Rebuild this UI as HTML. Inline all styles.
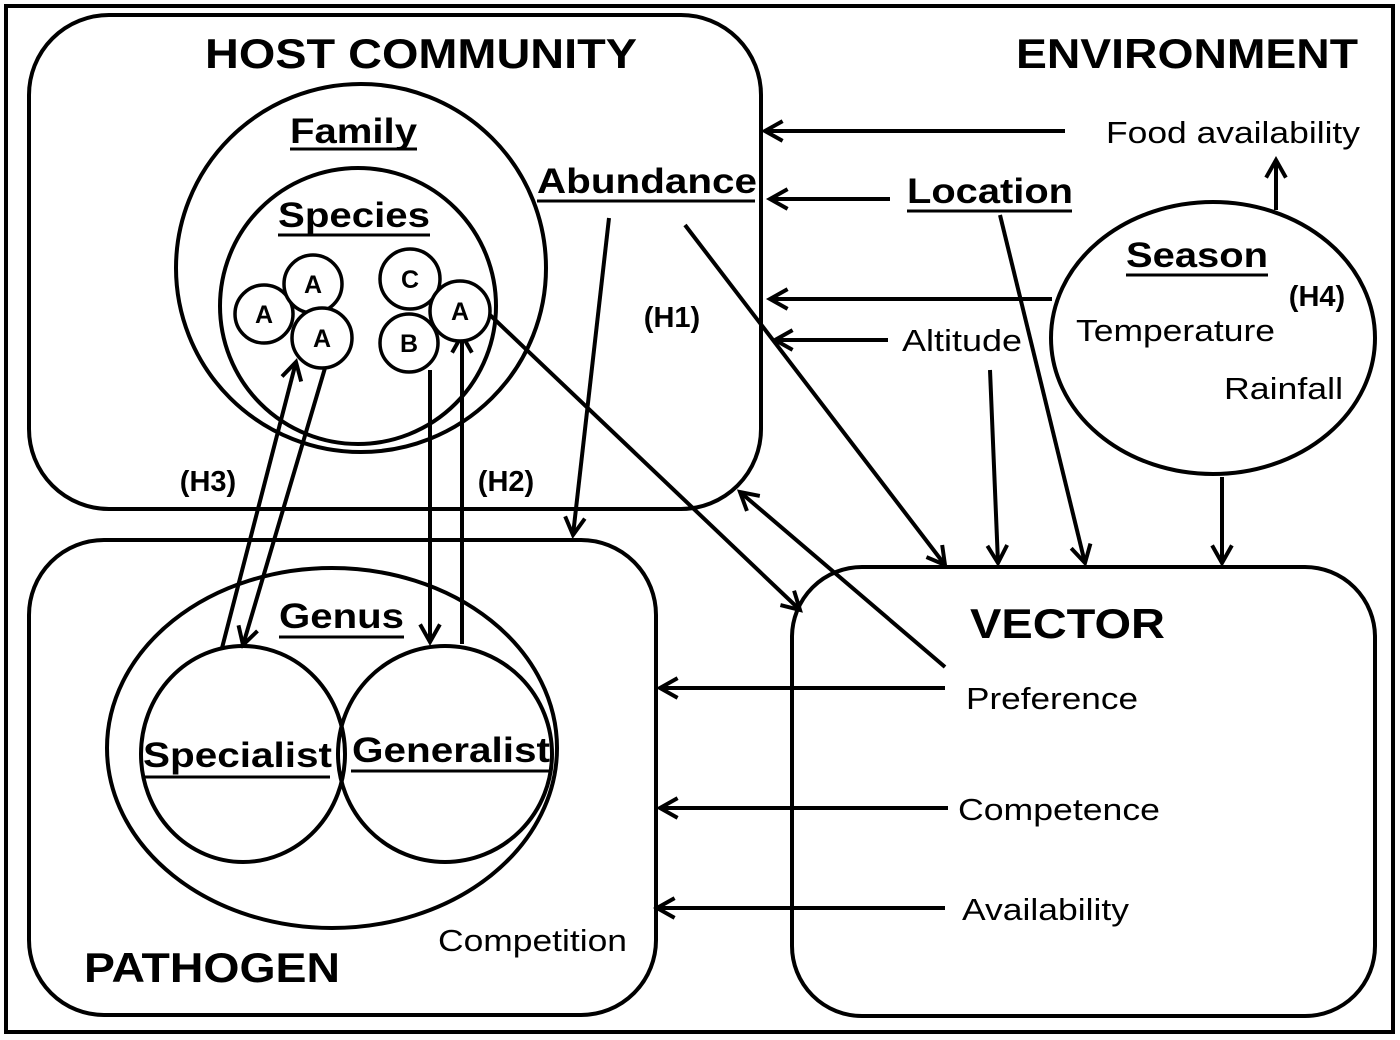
<!DOCTYPE html>
<html><head><meta charset="utf-8"><style>
html,body{margin:0;padding:0;background:#fff;}
svg{display:block;}
text{font-family:"Liberation Sans",Arial,sans-serif;fill:#000;}
.b{font-weight:bold;}
</style></head><body>
<svg width="1400" height="1040" viewBox="0 0 1400 1040" xmlns="http://www.w3.org/2000/svg">
<defs>
<marker id="a" viewBox="0 0 20 20" refX="18" refY="10" markerWidth="22" markerHeight="22" markerUnits="userSpaceOnUse" orient="auto" overflow="visible">
<path d="M2,1 L18,10 L2,19" fill="none" stroke="#000" stroke-width="3.6"/>
</marker>
</defs>
<g fill="none" stroke="#000" stroke-width="4">
<rect x="6" y="6" width="1387" height="1026"/>
<rect x="29" y="15" width="732" height="494" rx="80"/>
<rect x="29" y="540" width="627" height="475" rx="75"/>
<rect x="792" y="567" width="583" height="449" rx="70"/>
<ellipse cx="361" cy="268" rx="185" ry="184"/>
<ellipse cx="358" cy="306" rx="138" ry="138"/>
<ellipse cx="1213" cy="338" rx="162" ry="136"/>
<ellipse cx="332" cy="748" rx="225" ry="180"/>
<ellipse cx="243" cy="754" rx="102" ry="108"/>
<ellipse cx="445" cy="754" rx="107" ry="108"/>
</g>
<g stroke="#000" stroke-width="4" fill="none" marker-end="url(#a)">
<line x1="1065" y1="131" x2="765" y2="131"/>
<line x1="890" y1="199" x2="770" y2="199"/>
<line x1="1052" y1="299" x2="770" y2="299"/>
<line x1="888" y1="340" x2="775" y2="340"/>
<line x1="1276" y1="210" x2="1276" y2="160"/>
<line x1="609" y1="218" x2="573" y2="535"/>
<line x1="685" y1="225" x2="945" y2="565"/>
<line x1="1000" y1="215" x2="1085" y2="563"/>
<line x1="990" y1="370" x2="998" y2="563"/>
<line x1="1222" y1="477" x2="1222" y2="563"/>
<line x1="945" y1="667" x2="740" y2="492"/>
<line x1="490" y1="315" x2="800" y2="610"/>
<line x1="945" y1="688" x2="660" y2="688"/>
<line x1="948" y1="808" x2="660" y2="808"/>
<line x1="945" y1="908" x2="657" y2="908"/>
<line x1="222" y1="648" x2="296" y2="362"/>
<line x1="325" y1="368" x2="243" y2="645"/>
<line x1="430" y1="370" x2="430" y2="642"/>
<line x1="462" y1="644" x2="462" y2="335"/>
</g>
<g fill="#fff" stroke="#000" stroke-width="3.5">
<circle cx="264" cy="314" r="29"/>
<circle cx="313" cy="284" r="29"/>
<circle cx="322" cy="338" r="30"/>
<circle cx="410" cy="279" r="30"/>
<circle cx="409" cy="343" r="29"/>
<circle cx="460" cy="311" r="30"/>
</g>
<g font-size="25" text-anchor="middle">
<text x="264" y="323" class="b">A</text>
<text x="313" y="293" class="b">A</text>
<text x="322" y="347" class="b">A</text>
<text x="410" y="288" class="b">C</text>
<text x="409" y="352" class="b">B</text>
<text x="460" y="320" class="b">A</text>
</g>
<g class="b" font-size="42">
<text x="205" y="68" class="b" textLength="432" lengthAdjust="spacingAndGlyphs">HOST COMMUNITY</text>
<text x="1016" y="68" class="b" textLength="342" lengthAdjust="spacingAndGlyphs">ENVIRONMENT</text>
<text x="970" y="638" class="b" textLength="195" lengthAdjust="spacingAndGlyphs">VECTOR</text>
<text x="84" y="982" class="b" textLength="256" lengthAdjust="spacingAndGlyphs">PATHOGEN</text>
</g>
<g font-size="35">
<text x="290" y="143" class="b" textLength="127" lengthAdjust="spacingAndGlyphs">Family</text>
<text x="278" y="227" class="b" textLength="152" lengthAdjust="spacingAndGlyphs">Species</text>
<text x="537" y="193" class="b" textLength="220" lengthAdjust="spacingAndGlyphs">Abundance</text>
<text x="907" y="203" class="b" textLength="166" lengthAdjust="spacingAndGlyphs">Location</text>
<text x="1126" y="267" class="b" textLength="142" lengthAdjust="spacingAndGlyphs">Season</text>
<text x="279" y="628" class="b" textLength="125" lengthAdjust="spacingAndGlyphs">Genus</text>
<text x="143" y="767" class="b" textLength="189" lengthAdjust="spacingAndGlyphs">Specialist</text>
<text x="352" y="762" class="b" textLength="198" lengthAdjust="spacingAndGlyphs">Generalist</text>
</g>
<g stroke="#000" stroke-width="3">
<line x1="290" y1="149" x2="417" y2="149"/>
<line x1="278" y1="235" x2="430" y2="235"/>
<line x1="537" y1="201" x2="755" y2="201"/>
<line x1="907" y1="211" x2="1072" y2="211"/>
<line x1="1126" y1="275" x2="1268" y2="275"/>
<line x1="279" y1="637" x2="404" y2="637"/>
<line x1="143" y1="777" x2="330" y2="777"/>
<line x1="351" y1="771" x2="550" y2="771"/>
</g>
<g font-size="29" text-anchor="middle">
<text x="672" y="327" class="b">(H1)</text>
<text x="506" y="491" class="b">(H2)</text>
<text x="208" y="491" class="b">(H3)</text>
<text x="1317" y="306" class="b">(H4)</text>
</g>
<g font-size="31">
<text x="1106" y="143" textLength="254" lengthAdjust="spacingAndGlyphs">Food availability</text>
<text x="902" y="351" textLength="120" lengthAdjust="spacingAndGlyphs">Altitude</text>
<text x="1076" y="341" textLength="199" lengthAdjust="spacingAndGlyphs">Temperature</text>
<text x="1224" y="399" textLength="119" lengthAdjust="spacingAndGlyphs">Rainfall</text>
<text x="966" y="709" textLength="172" lengthAdjust="spacingAndGlyphs">Preference</text>
<text x="958" y="820" textLength="202" lengthAdjust="spacingAndGlyphs">Competence</text>
<text x="962" y="920" textLength="167" lengthAdjust="spacingAndGlyphs">Availability</text>
<text x="438" y="951" textLength="189" lengthAdjust="spacingAndGlyphs">Competition</text>
</g>
</svg>
</body></html>
